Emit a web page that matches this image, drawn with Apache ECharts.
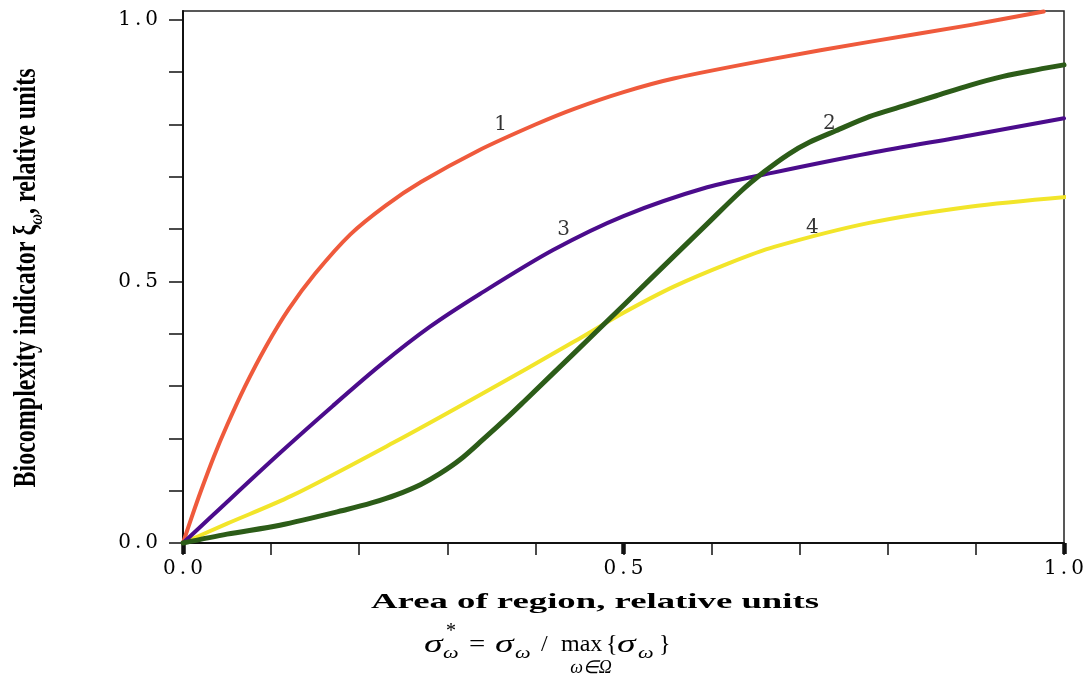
<!DOCTYPE html>
<html>
<head>
<meta charset="utf-8">
<script src="https://cdn.jsdelivr.net/npm/echarts@6/dist/echarts.min.js"></script>
<style>html,body{margin:0;padding:0;background:#fff}#c{width:1089px;height:674px}</style>
</head>
<body>
<div id="c"></div>
<script>
// ---- data ----
const xTickLabels = ['0.0', '0.5', '1.0'];
const yTickLabels = ['0.0', '0.5', '1.0'];
const yTickValues = [0, 0.1, 0.2, 0.3, 0.4, 0.5, 0.6, 0.7, 0.8, 0.9, 1.0];

const curve1X = [0, 0.01, 0.02, 0.035, 0.05, 0.07, 0.095, 0.12, 0.15, 0.19, 0.23, 0.27, 0.335, 0.4, 0.444, 0.5, 0.557, 0.668, 0.779, 0.893, 0.977];
const curve1Y = [0, 0.05, 0.098, 0.165, 0.225, 0.298, 0.378, 0.447, 0.515, 0.59, 0.645, 0.69, 0.75, 0.8, 0.83, 0.862, 0.888, 0.925, 0.958, 0.99, 1.016];

const curve2X = [0, 0.05, 0.11, 0.186, 0.215, 0.242, 0.27, 0.292, 0.315, 0.34, 0.37, 0.388, 0.444, 0.501, 0.557, 0.595, 0.633, 0.66, 0.688, 0.711, 0.741, 0.779, 0.817, 0.855, 0.893, 0.931, 0.97, 1.0];
const curve2Y = [0, 0.017, 0.034, 0.064, 0.077, 0.092, 0.112, 0.133, 0.16, 0.197, 0.243, 0.272, 0.363, 0.456, 0.548, 0.61, 0.672, 0.71, 0.744, 0.766, 0.788, 0.815, 0.835, 0.855, 0.875, 0.892, 0.905, 0.914];

const curve3X = [0, 0.035, 0.11, 0.17, 0.224, 0.28, 0.337, 0.42, 0.5, 0.595, 0.67, 0.779, 0.893, 1.0];
const curve3Y = [0, 0.055, 0.172, 0.262, 0.34, 0.413, 0.476, 0.56, 0.625, 0.68, 0.708, 0.745, 0.779, 0.812];

const curve4X = [0, 0.05, 0.123, 0.239, 0.337, 0.444, 0.5, 0.557, 0.62, 0.671, 0.779, 0.893, 1.005];
const curve4Y = [0, 0.037, 0.09, 0.192, 0.283, 0.385, 0.44, 0.49, 0.535, 0.566, 0.612, 0.643, 0.662];

const curveLabelNames = ['1', '2', '3', '4'];
const curveLabelX = [0.3605, 0.7336, 0.432, 0.7143];
const curveLabelY = [0.799, 0.801, 0.598, 0.602];

// ---- helpers ----
const pairs = (xs, ys) => xs.map((x, i) => [x, ys[i]]);
const serif = '"Liberation Serif", "Times New Roman", serif';
const dserif = '"DejaVu Serif", serif';
const tickLabelFmt = (labels) => function (v) {
  const s = v.toFixed(1);
  if (Math.abs(v * 2 - Math.round(v * 2)) > 1e-6 || labels.indexOf(s) < 0) return '';
  return '{d|' + s[0] + '}{p|.}{d|' + s[2] + '}';
};
const tickRich = {
  d: { fontFamily: dserif, fontSize: 20, color: '#000' },
  p: { fontFamily: dserif, fontSize: 20, color: '#000', padding: [0, 4, 0, 4] }
};

const chart = echarts.init(document.getElementById('c'), null, { renderer: 'canvas' });

function lineSeries(name, xs, ys, color, width) {
  return {
    name, type: 'line', xAxisIndex: 0, yAxisIndex: 0,
    data: pairs(xs, ys), showSymbol: false, smooth: 0.3,
    lineStyle: { color, width, cap: 'round', join: 'round' },
    clip: false, animation: false, silent: true
  };
}

const fText = (x, y, text, font, align, sx) => ({
  type: 'text', x, y, scaleX: sx || 1, silent: true,
  style: { text, font, fill: '#000', textAlign: align || 'left', textVerticalAlign: 'middle' }
});

chart.setOption({
  backgroundColor: '#ffffff',
  animation: false,
  grid: {
    left: 183, right: 25, top: 11, bottom: 131,
    show: true, borderColor: '#222', borderWidth: 1.5, backgroundColor: 'transparent'
  },
  xAxis: [
    {
      type: 'value', min: 0, max: 1, interval: 0.1, position: 'bottom',
      axisLine: { show: true, onZero: false, lineStyle: { color: '#111', width: 2 } },
      axisTick: { show: true, inside: false, length: 12, lineStyle: { color: '#111', width: 1.5 } },
      axisLabel: { margin: 16, formatter: tickLabelFmt(xTickLabels), rich: tickRich },
      splitLine: { show: false }
    },
    {
      type: 'value', min: 0, max: 1, interval: 0.5, position: 'bottom',
      axisLine: { show: false },
      axisTick: { show: true, inside: false, length: 11, lineStyle: { color: '#111', width: 4.5 } },
      axisLabel: { show: false },
      splitLine: { show: false }
    }
  ],
  yAxis: {
    type: 'value', min: 0, max: 1.017, interval: 0.1,
    axisLine: { show: true, onZero: false, lineStyle: { color: '#111', width: 2 } },
    axisTick: { show: true, inside: false, length: 14, customValues: yTickValues, lineStyle: { color: '#111', width: 1.5 } },
    axisLabel: { margin: 25, customValues: [0, 0.5, 1.0], formatter: tickLabelFmt(yTickLabels), rich: tickRich },
    splitLine: { show: false }
  },
  series: [
    lineSeries('1', curve1X, curve1Y, '#ef5a3c', 4),
    lineSeries('4', curve4X, curve4Y, '#f2e52a', 4),
    lineSeries('3', curve3X, curve3Y, '#4b0c8c', 4),
    lineSeries('2', curve2X, curve2Y, '#2c5c18', 5),
    {
      type: 'scatter', xAxisIndex: 0, yAxisIndex: 0, symbolSize: 0, silent: true,
      data: curveLabelNames.map((n, i) => ({ name: n, value: [curveLabelX[i], curveLabelY[i]] })),
      label: { show: true, position: 'inside', formatter: p => p.name,
        fontFamily: dserif, fontSize: 20, color: '#000' }
    }
  ],
  graphic: [
    {
      type: 'text', x: 27, y: 278, rotation: Math.PI / 2, scaleY: 1.3, silent: true,
      style: {
        text: '{b|Biocomplexity indicator ξ}{s|ω}{b|, relative units}',
        textAlign: 'center', textVerticalAlign: 'middle',
        rich: {
          b: { fontFamily: serif, fontWeight: 'bold', fontSize: 24, lineHeight: 30, verticalAlign: 'middle', fill: '#000', color: '#000' },
          s: { fontFamily: serif, fontWeight: 'bold', fontStyle: 'italic', fontSize: 15, lineHeight: 15, verticalAlign: 'bottom', fill: '#000', color: '#000' }
        }
      }
    },
    {
      type: 'text', x: 595, y: 603, scaleX: 1.75, silent: true,
      style: {
        text: 'Area of region, relative units',
        font: 'bold 21px ' + serif, fill: '#000', textAlign: 'center', textVerticalAlign: 'middle'
      }
    },
    fText(424, 645, 'σ', 'italic 26px ' + serif, 'left', 1.45),
    fText(446, 632, '*', '20px ' + serif),
    fText(443, 654, 'ω', 'italic 17px ' + serif, 'left', 1.3),
    fText(469, 645, '=', '24px ' + serif, 'left', 1.2),
    fText(495, 645, 'σ', 'italic 26px ' + serif, 'left', 1.45),
    fText(515, 654, 'ω', 'italic 17px ' + serif, 'left', 1.3),
    fText(541, 645, '/', '24px ' + serif),
    fText(561, 645, 'max', '24px ' + serif),
    fText(606, 645, '{', '24px ' + serif),
    fText(617, 645, 'σ', 'italic 26px ' + serif, 'left', 1.45),
    fText(638, 654, 'ω', 'italic 17px ' + serif, 'left', 1.3),
    fText(659, 645, '}', '24px ' + serif),
    fText(591, 668, 'ω∈Ω', 'italic 18px ' + serif, 'center')
  ]
});
</script>
</body>
</html>
